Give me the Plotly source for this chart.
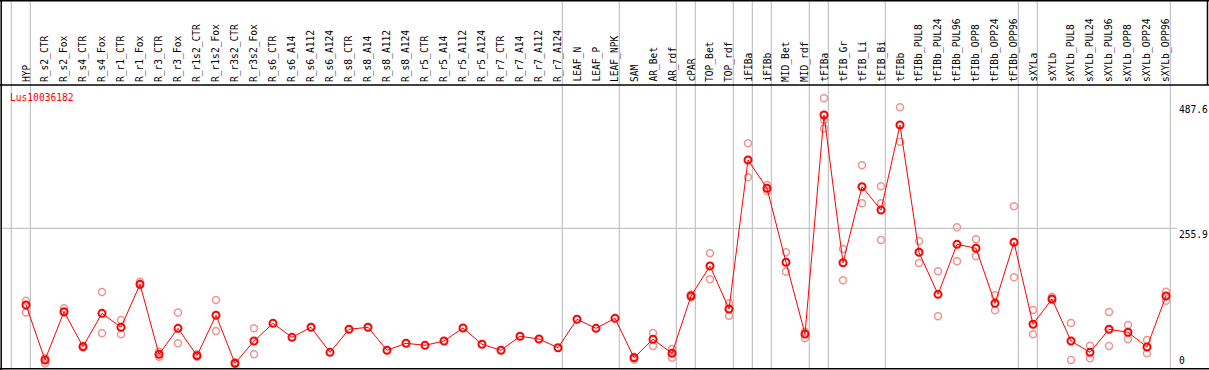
import plotly.graph_objects as go

W, H = 1209, 370

categories = ["HYP", "R_s2_CTR", "R_s2_Fox", "R_s4_CTR", "R_s4_Fox", "R_r1_CTR", "R_r1_Fox",
              "R_r3_CTR", "R_r3_Fox", "R_r1s2_CTR", "R_r1s2_Fox", "R_r3s2_CTR", "R_r3s2_Fox",
              "R_s6_CTR", "R_s6_A14", "R_s6_A112", "R_s6_A124", "R_s8_CTR", "R_s8_A14",
              "R_s8_A112", "R_s8_A124", "R_r5_CTR", "R_r5_A14", "R_r5_A112", "R_r5_A124",
              "R_r7_CTR", "R_r7_A14", "R_r7_A112", "R_r7_A124", "LEAF_N", "LEAF_P", "LEAF_NPK",
              "SAM", "AR_Bet", "AR_rdf", "cPAR", "TOP_Bet", "TOP_rdf", "iFIBa", "iFIBb",
              "MID_Bet", "MID_rdf", "tFIBa", "tFIB_Gr", "tFIB_Li", "tFIB_Bi", "tFIBb",
              "tFIBb_PUL8", "tFIBb_PUL24", "tFIBb_PUL96", "tFIBb_OPP8", "tFIBb_OPP24",
              "tFIBb_OPP96", "sXYLa", "sXYLb", "sXYLb_PUL8", "sXYLb_PUL24", "sXYLb_PUL96",
              "sXYLb_OPP8", "sXYLb_OPP24", "sXYLb_OPP96"]

means = [114.7, 13.4, 102.4, 38.0, 99.4, 73.7, 152.8, 23.9, 71.8, 21.4, 95.8, 7.4, 48.4,
         81.0, 55.2, 73.7, 27.6, 70.0, 73.7, 31.3, 44.2, 40.5, 48.4, 72.4, 42.4,
         31.3, 57.1, 52.1, 36.1, 88.4, 71.8, 90.2,
         17.7, 51.6, 25.8, 131.3, 186.6, 107.4, 381.8, 329.6, 193.4, 61.3,
         464.6, 192.6, 332.6, 289.7, 446.2,
         211.8, 134.4, 226.5, 219.2, 117.9, 230.2,
         79.2, 125.8, 48.4, 27.6, 70.0, 64.5, 37.4, 131.3]

replicates = [[122.7, 101.0], [16.5, 7.4], [108.6, 101.0], [39.5, 36.5], [138.7, 62.6],
              [87.0, 60.8], [157.7, 151.6], [28.7, 19.5], [101.0, 44.2], [23.9, 19.5],
              [124.0, 66.9], [9.5, 6.0], [71.8, 23.9],
              [], [], [], [], [], [], [], [], [], [], [], [], [], [], [], [], [], [], [],
              [19.5, 14.5], [63.2, 39.2], [33.7, 17.7], [134.0, 129.0], [210.0, 162.0],
              [117.9, 95.0], [412.5, 350.0], [335.7, 325.2], [211.8, 176.0], [65.6, 53.4],
              [495.4, 455.4, 440.0], [217.9, 160.2], [372.0, 302.0], [333.3, 302.0, 234.4],
              [478.8, 415.5],
              [232.6, 192.0], [176.8, 93.9], [257.8, 195.2], [235.7, 204.4], [132.6, 105.0],
              [296.5, 165.7],
              [105.5, 60.8], [130.0, 124.0], [81.6, 13.4], [39.8, 16.6], [101.8, 39.2],
              [77.9, 51.6], [50.3, 25.8], [139.2, 122.7]]

group_ends = [-1, 0, 28, 31, 34, 35, 37, 38, 39, 41, 42, 45, 52, 53, 60]
tick_values = [487.6, 255.9, 0]
tick_labels = ["487.6", "255.9", "0"]
gene_id = "Lus10036182"

# pixel mapping
X0, DX = 26.0, 19.0          # category i at pixel X0 + DX*i
Y0, SY = 367.3, 0.543        # value v at pixel Y0 - SY*v
xr = [(0 - X0) / DX, (W - X0) / DX]
yr = [(Y0 - H) / SY, Y0 / SY]

def px(p):
    return p / W

def py(p):
    return 1 - p / H

rx, ry = [], []
for i, reps in enumerate(replicates):
    for v in reps:
        rx.append(i)
        ry.append(v)

fig = go.Figure()
fig.add_trace(go.Scatter(x=rx, y=ry, mode="markers", hoverinfo="skip",
                         marker=dict(symbol="circle-open", size=7, color="#f0948f",
                                     line=dict(width=1.5))))
fig.add_trace(go.Scatter(x=list(range(len(categories))), y=means, mode="lines+markers",
                         text=categories,
                         line=dict(color="#ff0000", width=1),
                         marker=dict(symbol="circle-open", size=7, color="#ff0000",
                                     line=dict(width=2))))

shapes = []
gray = "#c4c4c4"
shapes.append(dict(type="line", xref="paper", yref="y", x0=px(1), x1=px(1177),
                   y0=tick_values[1], y1=tick_values[1], line=dict(color=gray, width=1.2),
                   layer="below"))
for g in group_ends:
    shapes.append(dict(type="line", xref="x", yref="paper", x0=g + 0.23, x1=g + 0.23,
                       y0=0, y1=1, line=dict(color=gray, width=1.2), layer="below"))
blk = dict(color="black", width=1.5)
shapes.append(dict(type="line", xref="paper", yref="paper", x0=0, x1=1, y0=py(0.7), y1=py(0.7), line=blk))
shapes.append(dict(type="line", xref="paper", yref="paper", x0=0, x1=1, y0=py(85), y1=py(85), line=blk))
shapes.append(dict(type="line", xref="paper", yref="paper", x0=0, x1=1, y0=py(368.8), y1=py(368.8), line=blk))
shapes.append(dict(type="line", xref="paper", yref="paper", x0=px(1.2), x1=px(1.2), y0=0, y1=1, line=blk))
shapes.append(dict(type="line", xref="paper", yref="paper", x0=px(1207.5), x1=px(1207.5), y0=py(0), y1=py(85), line=blk))

font = dict(family="DejaVu Sans Mono", size=9.6, color="black")
annotations = []
for i, c in enumerate(categories):
    annotations.append(dict(text=c, x=i, xref="x", y=py(83), yref="paper", textangle=-90,
                            xanchor="center", yanchor="bottom", showarrow=False, font=font,
                            borderpad=0))
annotations.append(dict(text=gene_id, x=px(9), xref="paper", y=py(97.5), yref="paper",
                        xanchor="left", yanchor="middle", showarrow=False,
                        font=dict(family="DejaVu Sans Mono", size=9.6, color="#ff0000"),
                        borderpad=0))
anchors = ["top", "top", "bottom"]
for v, t, a in zip(tick_values, tick_labels, anchors):
    annotations.append(dict(text=t, x=px(1178), xref="paper", y=v, yref="y",
                            xanchor="left", yanchor=a, showarrow=False, font=font,
                            borderpad=0))

fig.update_layout(width=W, height=H, margin=dict(l=0, r=0, t=0, b=0),
                  paper_bgcolor="white", plot_bgcolor="white", showlegend=False,
                  xaxis=dict(visible=False, range=xr, fixedrange=True),
                  yaxis=dict(visible=False, range=yr, fixedrange=True),
                  shapes=shapes, annotations=annotations)

fig.write_html("out.html", config={"displayModeBar": False},
               post_script="document.body.style.margin='0';document.body.style.padding='0';"
                           "document.documentElement.style.overflow='hidden';")
